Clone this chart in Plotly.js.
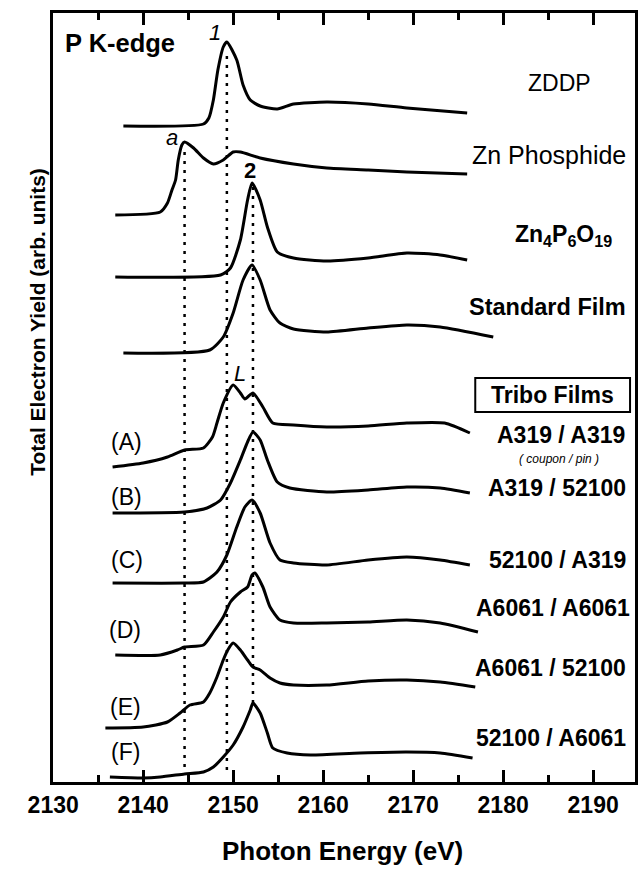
<!DOCTYPE html>
<html>
<head>
<meta charset="utf-8">
<script src="https://cdn.plot.ly/plotly-3.0.1.min.js"></script>
<style>
html,body{margin:0;padding:0;background:#fff;}
#chart{width:639px;height:871px;}
</style>
</head>
<body>
<div id="chart"></div>
<script>
// Photon energy (eV) and offset Total Electron Yield (arb. units) for each spectrum
const zddpE = [2137.8,2146.7,2147.3,2147.8,2148.3,2148.9,2149.3,2150.4,2151.1,2151.9,2153.0,2154.9,2156.7,2160.4,2165.0,2169.3,2176.0];
const zddpY = [656,658,664,682,712,735,740,722,697,682,676,673,678,680,678,674,669];

const znPhosE = [2136.9,2141.9,2142.7,2143.2,2143.6,2143.9,2144.3,2144.6,2145.6,2146.7,2147.8,2148.9,2150.0,2150.8,2153.0,2156.7,2160.4,2165.0,2169.3,2176.0];
const znPhosY = [567,570,579,592,602,622,637,640,634,624,618,622,630,630,624,618,614,612,610,608];

const zn4E = [2136.9,2148.6,2149.7,2150.8,2151.6,2152.1,2153.0,2153.8,2154.9,2156.7,2160.4,2165.0,2169.3,2173.0,2176.0];
const zn4Y = [505,507,514,542,582,599,582,555,530,524,521,524,529,527,522];

const stdE = [2137.8,2147.4,2148.9,2150.0,2151.1,2152.1,2153.0,2154.1,2155.2,2156.7,2160.4,2165.0,2169.3,2173.0,2178.9];
const stdY = [429,432,445,469,502,517,502,472,459,453,450,454,457,455,445];

const aE = [2136.6,2140.0,2142.7,2144.6,2146.7,2147.7,2148.2,2148.9,2150.0,2150.8,2151.3,2152.2,2153.3,2154.4,2156.7,2160.4,2165.0,2169.3,2173.5,2176.3];
const aY = [315,319,325,332,334,345,359,379,397,389,383,389,375,359,357,355,356,359,359,349];

const bE = [2136.6,2144.6,2147.1,2148.6,2149.7,2150.8,2151.6,2152.2,2153.0,2153.8,2154.9,2156.3,2160.4,2165.0,2169.3,2173.0,2176.3];
const bY = [269,270,274,282,299,322,340,350,342,322,300,294,290,292,295,294,289];

const cE = [2136.6,2144.6,2146.7,2148.2,2149.3,2150.4,2151.3,2152.1,2153.0,2154.1,2155.2,2156.7,2160.4,2165.0,2169.3,2173.0,2176.3];
const cY = [199,199,200,210,227,255,275,282,269,239,222,219,217,222,225,222,217];

const dE = [2136.9,2141.9,2143.8,2144.6,2146.7,2147.8,2148.9,2149.7,2150.8,2151.6,2152.1,2152.4,2153.3,2154.1,2155.2,2156.7,2160.4,2165.0,2169.3,2173.0,2177.2];
const dY = [127,127,132,135,137,150,165,180,190,195,207,209,195,175,162,159,159,160,162,159,150];

const eE = [2135.8,2140.0,2142.7,2144.1,2145.2,2146.7,2147.4,2148.2,2148.9,2149.4,2150.0,2150.8,2151.6,2152.2,2153.0,2154.1,2155.2,2156.7,2160.4,2165.0,2169.3,2173.0,2176.9];
const eY = [54,55,60,69,77,80,89,105,122,132,139,132,122,115,112,104,99,97,97,101,102,100,95];

const fE = [2136.3,2140.0,2141.9,2144.6,2146.7,2147.8,2148.9,2150.0,2151.1,2151.9,2152.2,2153.0,2153.8,2154.4,2156.0,2158.6,2164.1,2169.3,2173.0,2176.6];
const fY = [5,4,5,8,10,15,25,37,55,72,79,69,49,34,29,27,29,30,29,24];

// Dotted guide lines (feature energies a, 1, 2)
const guideE = [2144.6, 2149.3, 2152.2];
const guideTop = [634, 732, 595];
const guideBottom = [15, 12, 79];

const xTicks = [2130,2140,2150,2160,2170,2180,2190];

const series = [
  [zddpE, zddpY], [znPhosE, znPhosY], [zn4E, zn4Y], [stdE, stdY],
  [aE, aY], [bE, bY], [cE, cY], [dE, dY], [eE, eY], [fE, fY]
];

const traces = [];
for (let i = 0; i < guideE.length; i++) {
  traces.push({
    x: [guideE[i], guideE[i]], y: [guideBottom[i], guideTop[i]],
    mode: 'lines', line: {color: '#000', width: 2.5, dash: '3px,6px'},
    hoverinfo: 'skip', showlegend: false
  });
}
series.forEach(s => {
  traces.push({
    x: s[0], y: s[1], mode: 'lines',
    line: {color: '#000', width: 3, shape: 'spline', smoothing: 0.6},
    showlegend: false
  });
});

const FAM = '"Liberation Sans", Arial, sans-serif';
const bold = {family: FAM, size: 23, color: '#000'};
const reg = {family: FAM, size: 23, color: '#000'};
const sz = (f, s) => Object.assign({}, f, {size: s});
function ann(text, x, y, xanchor, font, extra) {
  return Object.assign({text: text, x: x, y: y, xref: 'x', yref: 'y', xanchor: xanchor, yanchor: 'middle', showarrow: false, font: font}, extra || {});
}
const B = s => '<b>' + s + '</b>';

const annotations = [
  ann(B('P K-edge'), 2131.1, 739, 'left', sz(bold, 25.5)),
  ann('<i>1</i>', 2148.0, 750, 'center', sz(reg, 22)),
  ann('<i>a</i>', 2143.2, 645, 'center', sz(reg, 22)),
  ann(B('2'), 2151.9, 612, 'center', sz(reg, 22)),
  ann('<i>L</i>', 2150.8, 409, 'center', sz(reg, 22)),
  ann('ZDDP', 2186.3, 699, 'center', reg),
  ann('Zn Phosphide', 2193.9, 627, 'right', sz(reg, 25)),
  ann(B('Zn<sub>4</sub>P<sub>6</sub>O<sub>19</sub>'), 2186.7, 547, 'center', bold),
  ann(B('Standard Film'), 2193.9, 475, 'right', sz(bold, 23.5)),
  ann(B('Tribo Films'), 2185.5, 387, 'center', bold),
  ann(B('A319 / A319'), 2193.8, 347, 'right', bold),
  ann('<i>( coupon / pin )</i>', 2186.2, 323, 'center', sz(reg, 12)),
  ann(B('A319 / 52100'), 2193.9, 294, 'right', bold),
  ann(B('52100 / A319'), 2193.9, 222, 'right', bold),
  ann(B('A6061 / A6061'), 2194.3, 174, 'right', bold),
  ann(B('A6061 / 52100'), 2193.9, 114, 'right', bold),
  ann(B('52100 / A6061'), 2193.9, 44, 'right', bold),
  ann('(A)', 2138.2, 340, 'center', reg),
  ann('(B)', 2138.2, 285, 'center', reg),
  ann('(C)', 2138.2, 222, 'center', reg),
  ann('(D)', 2138.0, 152, 'center', reg),
  ann('(E)', 2138.0, 75, 'center', reg),
  ann('(F)', 2138.0, 30, 'center', reg),
  {text: B('Photon Energy (eV)'), xref: 'paper', yref: 'paper', x: 0.4966, y: -0.0897, xanchor: 'center', yanchor: 'middle', showarrow: false, font: sz(bold, 26)},
  {text: B('Total Electron Yield (arb. units)'), xref: 'paper', yref: 'paper', x: -0.028, y: 0.598, xanchor: 'center', yanchor: 'middle', textangle: -90, showarrow: false, font: sz(bold, 21)}
];

const shapes = [
  {type: 'rect', xref: 'x', yref: 'y', x0: 2176.9, x1: 2194.1, y0: 370, y1: 404, line: {color: '#000', width: 2}, fillcolor: 'rgba(0,0,0,0)'}
];

const layout = {
  width: 639, height: 871,
  margin: {l: 53, r: 4, t: 13, b: 89},
  paper_bgcolor: '#fff', plot_bgcolor: '#fff',
  showlegend: false,
  xaxis: {
    range: [2129.98, 2194.65],
    tickmode: 'array', tickvals: xTicks, ticktext: xTicks.map(String),
    ticks: 'inside', ticklen: 12, tickwidth: 3, tickcolor: '#000',
    minor: {dtick: 5, tick0: 2130, ticks: 'inside', ticklen: 7, tickwidth: 3, tickcolor: '#000', showgrid: false},
    showline: true, linewidth: 3, linecolor: '#000', mirror: 'allticks',
    showgrid: false, zeroline: false,
    tickfont: {family: FAM, size: 23, color: '#000', weight: 'bold'}
  },
  yaxis: {
    range: [0, 769],
    showticklabels: false, ticks: '',
    showline: true, linewidth: 3, linecolor: '#000', mirror: true,
    showgrid: false, zeroline: false
  },
  shapes: shapes,
  annotations: annotations
};

Plotly.newPlot('chart', traces, layout, {displayModeBar: false, staticPlot: true});
</script>
</body>
</html>
